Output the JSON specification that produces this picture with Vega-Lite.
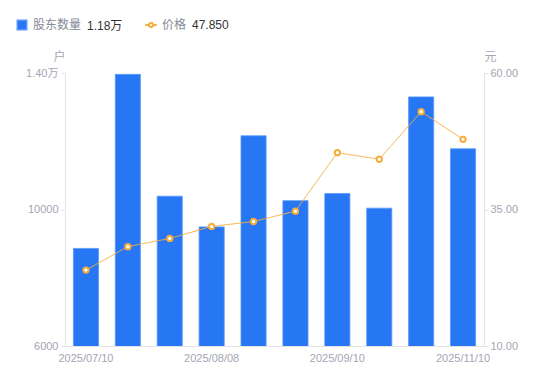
{
  "$schema": "https://vega.github.io/schema/vega-lite/v6.json",
  "width": 419,
  "height": 273,
  "autosize": "none",
  "padding": {"left": 65, "top": 73, "right": 66, "bottom": 35},
  "background": "white",
  "config": {
    "view": {"stroke": null},
    "font": "Liberation Sans, Noto Sans CJK SC, sans-serif",
    "axis": {"labelFont": "Liberation Sans, Noto Sans CJK SC", "titleFont": "Noto Sans CJK SC"},
    "legend": {
      "labelFont": "Noto Sans CJK SC", "labelFontSize": 12, "labelColor": "#858996",
      "titleFont": "Liberation Sans, Noto Sans CJK SC", "titleFontSize": 12, "titleColor": "#333333",
      "titleFontWeight": "normal", "titleOrient": "right", "titlePadding": 6, "labelOffset": 5
    }
  },
  "data": {
    "values": [
      {"date": "2025/07/10", "holders": 8860, "price": 23.9},
      {"date": "2025/07/18", "holders": 13960, "price": 28.2},
      {"date": "2025/07/31", "holders": 10390, "price": 29.7},
      {"date": "2025/08/08", "holders": 9490, "price": 31.9},
      {"date": "2025/08/20", "holders": 12160, "price": 32.8},
      {"date": "2025/08/29", "holders": 10260, "price": 34.7},
      {"date": "2025/09/10", "holders": 10470, "price": 45.4},
      {"date": "2025/09/19", "holders": 10040, "price": 44.2},
      {"date": "2025/09/30", "holders": 13300, "price": 52.9},
      {"date": "2025/11/10", "holders": 11780, "price": 47.85}
    ]
  },
  "encoding": {
    "x": {
      "field": "date", "type": "ordinal", "sort": null,
      "scale": {"paddingInner": 0.4, "paddingOuter": 0.2},
      "axis": {
        "title": null, "labelAngle": 0, "values": ["2025/07/10", "2025/08/08", "2025/09/10", "2025/11/10"],
        "ticks": false, "domainColor": "#e3e3e6", "labelColor": "#a3a6b4", "labelFontSize": 11, "labelPadding": 6
      }
    }
  },
  "layer": [
    {
      "mark": {"type": "bar", "clip": true, "stroke": "#5c98f7", "strokeWidth": 0.8},
      "encoding": {
        "y": {
          "field": "holders", "type": "quantitative",
          "scale": {"domain": [6000, 14000], "zero": false, "nice": false},
          "axis": {
            "values": [6000, 10000, 14000],
            "labelExpr": "datum.value >= 14000 ? '1.40万' : datum.value",
            "grid": false, "domainColor": "#e3e3e6", "tickColor": "#e3e3e6", "tickSize": 4,
            "labelColor": "#a3a6b4", "labelFontSize": 11, "labelPadding": 3,
            "title": "户", "titleAngle": 0, "titleX": -6, "titleY": -10, "titleAlign": "center",
            "titleColor": "#a3a6b4", "titleFontSize": 12, "titleFontWeight": "normal"
          }
        },
        "color": {
          "datum": "股东数量", "type": "nominal",
          "scale": {"domain": ["股东数量"], "range": ["#2777f5"]},
          "legend": {
            "title": "1.18万", "orient": "none", "direction": "horizontal",
            "legendX": -49, "legendY": -54,
            "symbolType": "square", "symbolSize": 90
          }
        }
      }
    },
    {
      "layer": [
        {
          "mark": {"type": "line", "color": "#f7ad3b", "strokeWidth": 1},
          "encoding": {
            "strokeDash": {
              "datum": "价格", "type": "nominal",
              "scale": {"domain": ["价格"], "range": [[1, 0]]},
              "legend": {
                "title": "47.850", "orient": "none", "direction": "horizontal",
                "legendX": 80, "legendY": -54,
                "symbolType": "M-1.2,0H-0.45M0.45,0H1.2M-0.45,0A0.45,0.45 0 1,0 0.45,0A0.45,0.45 0 1,0 -0.45,0",
                "symbolSize": 90, "symbolStrokeWidth": 2, "symbolStrokeColor": "#f7ad3b", "symbolFillColor": "#ffffff"
              }
            }
          }
        },
        {"mark": {"type": "point", "filled": false, "fill": "#ffffff", "fillOpacity": 1, "stroke": "#f7ad3b", "strokeWidth": 2, "size": 28, "opacity": 1}, "encoding": {}}
      ],
      "encoding": {
        "y": {
          "field": "price", "type": "quantitative",
          "scale": {"domain": [10, 60], "zero": false, "nice": false},
          "axis": {
            "orient": "right", "values": [10, 35, 60], "format": ".2f",
            "grid": false, "domainColor": "#e3e3e6", "tickColor": "#e3e3e6", "tickSize": 4,
            "labelColor": "#a3a6b4", "labelFontSize": 11, "labelPadding": 2,
            "title": "元", "titleAngle": 0, "titleX": 6, "titleY": -10, "titleAlign": "center",
            "titleColor": "#a3a6b4", "titleFontSize": 12, "titleFontWeight": "normal"
          }
        }
      }
    }
  ],
  "resolve": {"scale": {"y": "independent"}}
}
